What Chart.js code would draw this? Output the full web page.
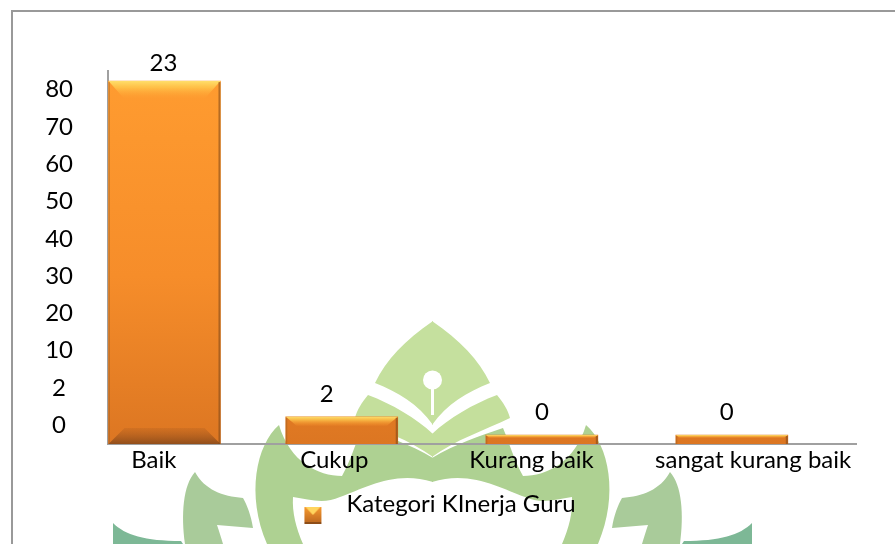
<!DOCTYPE html>
<html><head><meta charset="utf-8">
<style>html,body{margin:0;padding:0;background:#fff}canvas{display:block}</style>
<script src="https://cdn.jsdelivr.net/npm/chart.js@4"></script>
</head><body><canvas id="c" width="895" height="544"></canvas>
<script>
const categories = ['Baik','Cukup','Kurang baik','sangat kurang baik'];
const valueLabels = ['23','2','0','0'];
const barHeights = [9.73,0.73,0.24,0.24];      // bar heights in bands of the printed axis
const barPositions = [0.302,1.25,2.32,3.336];  // bar centres
const labelPositions = [0.245,1.21,2.265,3.45];
const yTickLabels = ['80','70','60','50','40','30','20','10','2','0'];
const seriesName = 'Kategori KInerja Guru';

const FONT = 'Lato, Carlito, Calibri, sans-serif', FS = 24;

function mirror(ctx, fn){ fn(); ctx.save(); ctx.translate(865,0); ctx.scale(-1,1); fn(); ctx.restore(); }
function shape(ctx, color, d){ ctx.fillStyle=color; ctx.fill(new Path2D(d)); }

const backdrop = { id:'backdrop', beforeDraw(chart){
  const ctx = chart.ctx; ctx.save();
  ctx.fillStyle='#fff'; ctx.fillRect(0,0,895,544);
  ctx.filter='blur(0.7px)';
  mirror(ctx,()=>{
    shape(ctx,'#7DB896','M113,523 C125,535 145,541 181,541 L183,544 L113,544 Z');
    shape(ctx,'#A9CB9A','M195,472 C183,485 181,515 185,544 L223,544 C221,537 219,531 217,525 L253,528 C251,515 247,505 243,498 C222,496 205,490 195,472 Z');
    shape(ctx,'#AED192','M279,425 C256,445 246,495 267,544 L303,544 C296,528 292,512 293,497 C310,500 325,504 340,497 C365,488 395,470 433,482 L433,458 C410,444 385,436 362,428 C355,445 350,462 342,476 C318,476 290,462 279,425 Z');
    shape(ctx,'#C4DF9C','M368,395 C392,404 416,418 433,434 L433,457 C410,440 380,430 355,418 C357,410 362,402 368,395 Z');
    shape(ctx,'#C5E09E','M433,321 C405,340 386,360 375,383 C398,392 418,404 433,425 Z');
  });
  ctx.filter='none';
  ctx.fillStyle='#fff';
  ctx.beginPath(); ctx.arc(432.5,380,9.5,0,7); ctx.fill();
  ctx.fillRect(431,385,3,30);
  ctx.fillStyle='#999999';
  ctx.fillRect(12,10,883,2);
  ctx.fillRect(11,10,2,534);
  ctx.restore();
}};

function bevel(ctx, x0,y0,x1,y1, topH, botH, inset){
  let g=ctx.createLinearGradient(0,y0,0,y0+topH);
  g.addColorStop(0,'rgba(255,226,110,.95)'); g.addColorStop(.35,'rgba(255,205,80,.75)'); g.addColorStop(1,'rgba(255,154,46,.15)');
  ctx.fillStyle=g; ctx.beginPath(); ctx.moveTo(x0,y0); ctx.lineTo(x1,y0); ctx.lineTo(x1-inset,y0+topH); ctx.lineTo(x0+inset,y0+topH); ctx.fill();
  if(botH>0){
    g=ctx.createLinearGradient(0,y1-botH,0,y1);
    g.addColorStop(0,'rgba(170,90,30,.25)'); g.addColorStop(1,'rgba(120,65,25,.75)');
    ctx.fillStyle=g; ctx.beginPath(); ctx.moveTo(x0+inset,y1-botH); ctx.lineTo(x1-inset,y1-botH); ctx.lineTo(x1,y1); ctx.lineTo(x0,y1); ctx.fill();
  }
  ctx.fillStyle='rgba(120,70,25,.55)'; ctx.fillRect(x1-2,y0+1,2,y1-y0-1);
  ctx.fillStyle='rgba(130,80,30,.30)'; ctx.fillRect(x0,y0+1,1.5,y1-y0-1);
}

const barStyle = { id:'barStyle', afterDatasetsDraw(chart){
  const ctx=chart.ctx, meta=chart.getDatasetMeta(0); ctx.save();
  const labelDx=[-1,-15,0,-5], labelDy=[-18,-23,-23,-23];
  meta.data.forEach((el,i)=>{
    const x0=el.x-el.width/2,x1=el.x+el.width/2,y0=el.y,y1=el.base,h=y1-y0;
    const topH=Math.min(18,h*.33), botH=h>40?16:0;
    bevel(ctx,x0,y0,x1,y1,topH,botH,Math.min(16,Math.max(topH*1.2,3)));
    ctx.fillStyle='#000'; ctx.font=FS+'px '+FONT; ctx.textAlign='center'; ctx.textBaseline='middle';
    ctx.fillText(valueLabels[i], el.x+labelDx[i], el.y+labelDy[i]);
  });
  ctx.restore();
}};

function swatch(){
  const W=42,H=40,c=document.createElement('canvas'); c.width=W;c.height=H;
  const x=c.getContext('2d');
  const L=12,T=23,S=17;
  let g=x.createLinearGradient(0,T,0,T+S); g.addColorStop(0,'#F79A30'); g.addColorStop(1,'#B9651F');
  x.fillStyle=g; x.fillRect(L,T,S,S);
  x.fillStyle='#FFD45E'; x.beginPath(); x.moveTo(L+1,T); x.lineTo(L+S-1,T); x.lineTo(L+S/2,T+8); x.fill();
  x.fillStyle='rgba(110,60,20,.6)'; x.fillRect(L,T+S-2,S,2);
  return c;
}

const ctx0=document.getElementById('c').getContext('2d');
new Chart(ctx0,{
  type:'bar',
  data:{ datasets:[{
    label:seriesName,
    data:barPositions.map((x,i)=>({x,y:barHeights[i]})),
    yAxisID:'y1', xAxisID:'x',
    barThickness:112,
    borderWidth:0,
    backgroundColor(c){
      const a=c.chart.chartArea; if(!a) return '#F08A28';
      const el=c.element, top=el&&el.y!==undefined?el.y:a.top, base=a.bottom;
      const h=base-top;
      if(h<60){ const g2=c.chart.ctx.createLinearGradient(0,top,0,base); g2.addColorStop(0,'#FF9C30'); g2.addColorStop(1,'#E8812A'); return g2; }
      const g=c.chart.ctx.createLinearGradient(0,a.top,0,a.bottom);
      g.addColorStop(0,'#FF9C30'); g.addColorStop(.55,'#F68D2A'); g.addColorStop(1,'#DC7622');
      return g;
    }
  }]},
  options:{
    responsive:false, animation:false,
    layout:{padding:{left:12,right:39,top:71,bottom:18}},
    plugins:{
      tooltip:{enabled:false},
      legend:{ position:'bottom', align:'center',
        labels:{ usePointStyle:true, pointStyleWidth:42, boxHeight:24, padding:8,
          color:'#000', font:{family:FONT,size:FS},
          generateLabels:(ch)=>[{text:seriesName,pointStyle:swatch(),fontColor:'#000',datasetIndex:0,lineWidth:0}]
        }}
    },
    scales:{
      x:{ type:'linear', min:0, max:4, offset:false, position:'bottom',
        grid:{display:false,drawTicks:false},
        border:{display:true,color:'#A0A0A0',width:2},
        afterBuildTicks(s){ s.ticks=labelPositions.map(v=>({value:v})); },
        afterFit(s){ s.height=40; },
        ticks:{ autoSkip:false, maxRotation:0, color:'#000', padding:2, font:{family:FONT,size:FS},
          callback:(v,i)=>categories[i] }
      },
      y:{ type:'category', labels:yTickLabels, offset:true, position:'left',
        grid:{display:false,drawTicks:false},
        border:{display:true,color:'#A0A0A0',width:2},
        afterFit(s){ s.width=96; },
        ticks:{ autoSkip:false, color:'#000', padding:35, crossAlign:'center', font:{family:FONT,size:FS} }
      },
      y1:{ type:'linear', min:0, max:10, display:false }
    }
  },
  plugins:[backdrop,barStyle]
});
</script></body></html>
